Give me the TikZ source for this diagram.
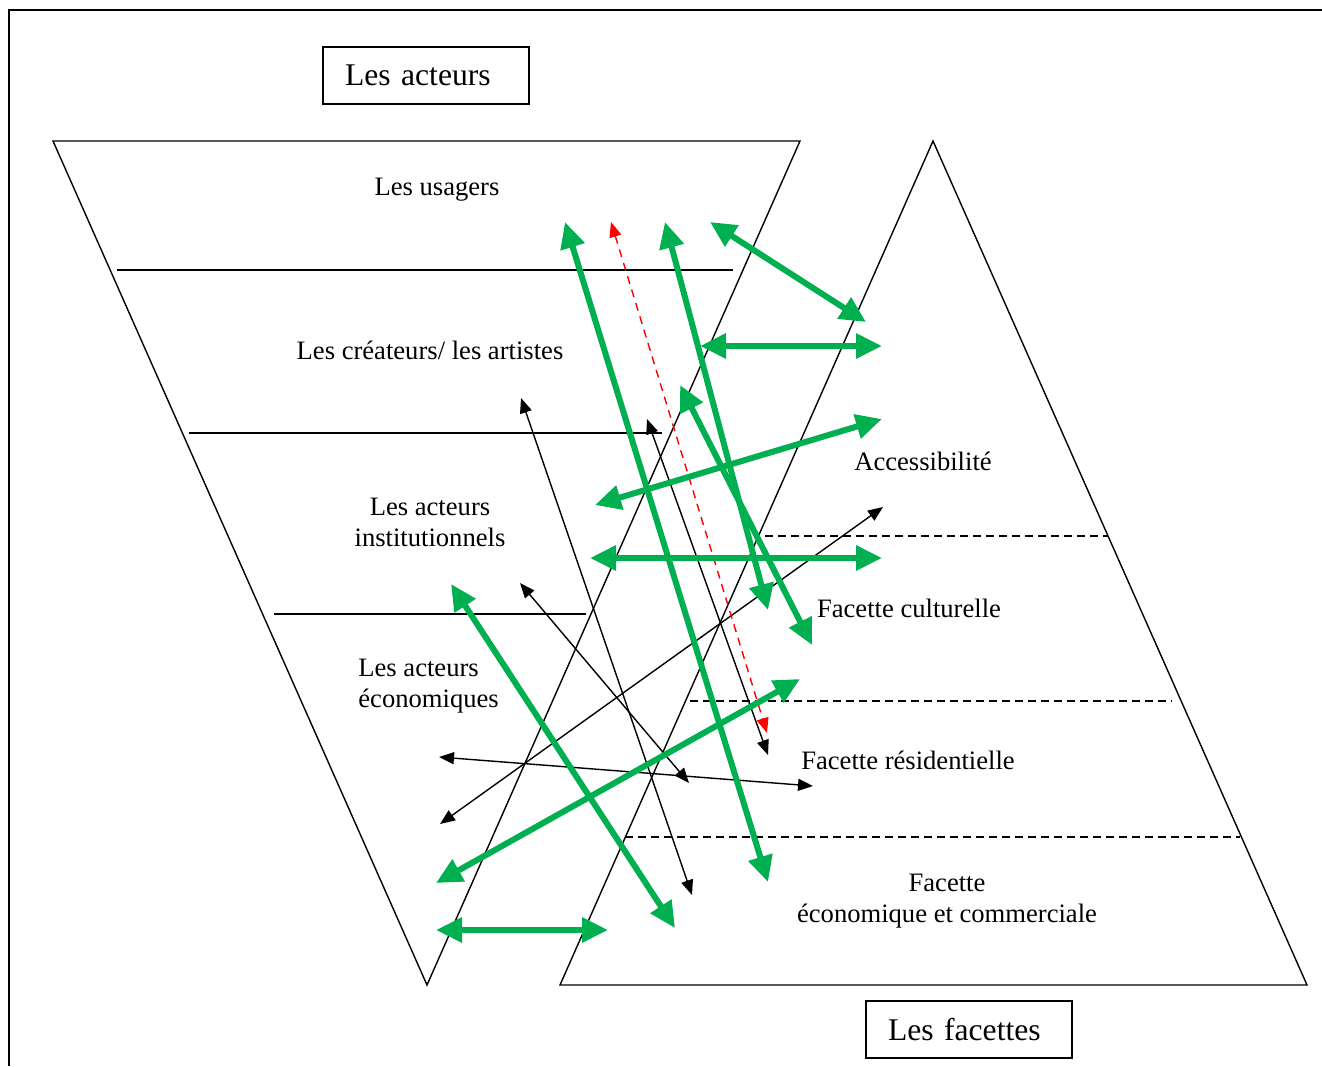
\documentclass[tikz,border=0pt]{standalone}
\usepackage{fontspec}
\setmainfont{Liberation Serif}
\usetikzlibrary{arrows.meta}
\definecolor{linkgreen}{RGB}{0,176,80}
\tikzset{
 act frame/.style={line width=0.75pt},
 act shape/.style={line width=0.7pt},
 fac level/.style={line width=0.7pt,dash pattern=on 4pt off 2.5pt},
 act title/.style={draw,line width=0.7pt,text width=81pt,align=left,inner xsep=11pt,
                   minimum height=28.5pt,inner ysep=0pt,font=\fontsize{15.8}{18}\selectfont},
 act label/.style={font=\fontsize{13.3}{15.5}\selectfont,align=center,inner sep=0pt},
 link strong/.style={line width=3pt,linkgreen,
   {Triangle[length=13pt,width=12pt]}-{Triangle[length=13pt,width=12pt]}},
 link weak/.style={line width=0.7pt,
   {Triangle[length=7.5pt,width=6pt]}-{Triangle[length=7.5pt,width=6pt]}},
 link doubtful/.style={line width=0.7pt,red,dash pattern=on 4pt off 3pt,
   {Triangle[length=7.5pt,width=6pt]}-{Triangle[length=7.5pt,width=6pt]}}
}
\begin{document}
\begin{tikzpicture}[x=0.5pt,y=-0.5pt]
 \useasboundingbox (0,0) rectangle (1322,1066);
 % page frame (only top and left edges show)
 \draw[act frame] (9,1066) -- (9,10) -- (1322,10);

 % the actors: inverted trapezoid with three levels
 \draw[act shape] (53,141) -- (800,141) -- (427,985) -- cycle;
 \draw[act shape] (117,270) -- (733,270);
 \draw[act shape] (189,433) -- (662,433);
 \draw[act shape] (274,614) -- (586,614);

 % the facets: triangle with dashed levels
 \draw[act shape] (933,141) -- (1307,985) -- (560,985) -- cycle;
 \draw[fac level] (765,536) -- (1108,536);
 \draw[fac level] (690,701) -- (1172,701);
 \draw[fac level] (625,837) -- (1240,837);

 \node[act title] (actors) at (426,75.5) {Les acteurs};
 \node[act title] (facets) at (969,1029.5) {Les facettes};

 \node[act label] (users) at (437,190) {Les usagers};
 \node[act label] (artists) at (430,350) {Les créateurs/ les artistes};
 \node[act label] (institutions) at (430,522) {Les acteurs\\institutionnels};
 \node[act label,align=left,anchor=west] (economics) at (358,686) {Les acteurs\\économiques};
 \node[act label] (access) at (923,461) {Accessibilité};
 \node[act label] (culture) at (909,608) {Facette culturelle};
 \node[act label] (housing) at (908,760) {Facette résidentielle};
 \node[act label] (trade) at (947,901) {Facette\\économique et commerciale};

 % ends of the strong links
 \coordinate (g1a) at (565,222);  \coordinate (g1b) at (768,882);
 \coordinate (g2a) at (665,222);  \coordinate (g2b) at (768,610);
 \coordinate (g3a) at (710,222);  \coordinate (g3b) at (866,322);
 \coordinate (g4a) at (700,346);  \coordinate (g4b) at (882,346);
 \coordinate (g5a) at (680,385);  \coordinate (g5b) at (812,645);
 \coordinate (g6a) at (595,505);  \coordinate (g6b) at (882,419);
 \coordinate (g7a) at (590,558);  \coordinate (g7b) at (882,558);
 \coordinate (g8a) at (451,584);  \coordinate (g8b) at (675,928);
 \coordinate (g9a) at (436,883);  \coordinate (g9b) at (800,679);
 \coordinate (g10a) at (436,930); \coordinate (g10b) at (608,930);
 % ends of the weak links
 \coordinate (b1a) at (521,398);  \coordinate (b1b) at (692,895);
 \coordinate (b2a) at (647,419);  \coordinate (b2b) at (768,755);
 \coordinate (b3a) at (520,583);  \coordinate (b3b) at (689,783);
 \coordinate (b4a) at (439,757);  \coordinate (b4b) at (813,786);
 \coordinate (b5a) at (440,824);  \coordinate (b5b) at (883,507);
 \coordinate (r1a) at (611,222);  \coordinate (r1b) at (767,733);

 \foreach \i in {1,...,5} \draw[link weak] (b\i a) -- (b\i b);
 \draw[link doubtful] (r1a) -- (r1b);
 \foreach \i in {1,...,10} \draw[link strong] (g\i a) -- (g\i b);
\end{tikzpicture}
\end{document}
